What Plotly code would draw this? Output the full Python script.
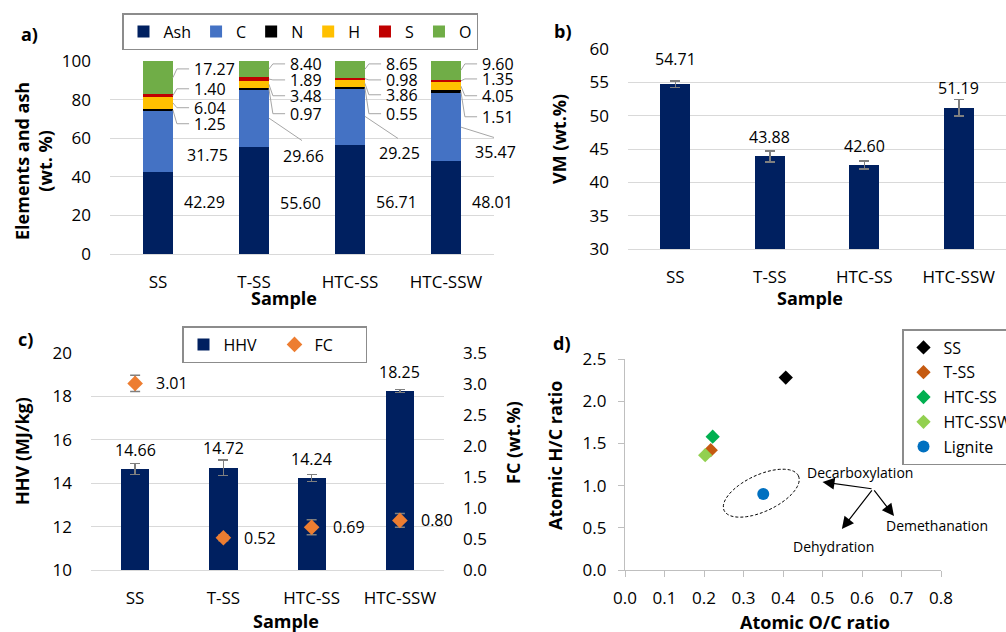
import numpy as np
import plotly.graph_objects as go

# ---------------- data ----------------
samples = ["SS", "T-SS", "HTC-SS", "HTC-SSW"]
components = ["Ash", "C", "N", "H", "S", "O"]
ash = [42.29, 55.60, 56.71, 48.01]
carbon = [31.75, 29.66, 29.25, 35.47]
nitrogen = [1.25, 0.97, 0.55, 1.51]
hydrogen = [6.04, 3.48, 3.86, 4.05]
sulfur = [1.40, 1.89, 0.98, 1.35]
oxygen = [17.27, 8.40, 8.65, 9.60]

vm = [54.71, 43.88, 42.60, 51.19]
vm_err = [0.5, 0.8, 0.6, 1.25]

hhv = [14.66, 14.72, 14.24, 18.25]
hhv_err = [0.25, 0.36, 0.17, 0.07]
fc = [3.01, 0.52, 0.69, 0.80]
fc_err = [0.13, 0.05, 0.12, 0.11]

vk_names = ["SS", "T-SS", "HTC-SS", "HTC-SSW", "Lignite"]
oc_ratio = [0.407, 0.217, 0.222, 0.203, 0.350]
hc_ratio = [2.28, 1.42, 1.58, 1.36, 0.90]

# label placements (panel a, in data units of the y axis)
label_y_a = {
    "Ash": [26.8, 26.3, 26.8, 26.8],
    "C": [51.5, 51.0, 52.1, 52.6],
    "N": [67.5, 72.7, 72.7, 71.1],
    "H": [75.8, 82.0, 82.5, 82.0],
    "S": [85.6, 90.2, 90.2, 90.7],
    "O": [95.9, 98.5, 98.5, 98.5],
}
label_y_b = [58.5, 46.8, 45.45, 54.15]
label_y_c = [15.53, 15.62, 15.12, 19.12]

# ---------------- styling ----------------
W, H = 1006, 632
FONT = "Open Sans"
GRID = "#D9D9D9"
NAVY = "#002060"
colors_a = ["#002060", "#4472C4", "#000000", "#FFC000", "#C00000", "#70AD47"]
vk_colors = ["#000000", "#C55A11", "#00B050", "#92D050", "#0070C0"]
vk_symbols = ["diamond", "diamond", "diamond", "diamond", "circle"]
tick_font = dict(family=FONT, size=17, color="#000000")
val_font = dict(family=FONT, size=16, color="#000000")
title_font = dict(family=FONT, size=18, color="#000000")
CAT_RANGE = [-0.5, len(samples) - 0.5]


def px_x(p):
    return p / W


def px_y(p):
    return 1 - p / H


fig = go.Figure()

# ---- panel a: stacked composition ----
seg_values = [ash, carbon, nitrogen, hydrogen, sulfur, oxygen]
for name, vals, col in zip(components, seg_values, colors_a):
    fig.add_trace(go.Bar(x=samples, y=vals, name=name, width=0.31,
                         marker=dict(color=col, line=dict(width=0)),
                         xaxis="x", yaxis="y", legend="legend"))

# ---- panel b: VM ----
err_style = dict(type="data", color="#7F7F7F", thickness=1.5, width=5, visible=True)
fig.add_trace(go.Bar(x=samples, y=vm, width=0.32, marker=dict(color=NAVY, line=dict(width=0)),
                     error_y=dict(array=vm_err, **err_style),
                     xaxis="x2", yaxis="y2", showlegend=False, name="VM"))

# ---- panel c: HHV & FC ----
fig.add_trace(go.Bar(x=samples, y=hhv, width=0.32, name="HHV",
                     marker=dict(color=NAVY, line=dict(width=0)),
                     error_y=dict(array=hhv_err, **err_style),
                     xaxis="x3", yaxis="y3", legend="legend2"))
fig.add_trace(go.Scatter(x=samples, y=fc, mode="markers", name="FC",
                         marker=dict(symbol="diamond", color="#ED7D31", size=12),
                         error_y=dict(array=fc_err, **err_style),
                         xaxis="x3", yaxis="y4", legend="legend2"))

# ---- panel d: van Krevelen ----
for i, nm in enumerate(vk_names):
    fig.add_trace(go.Scatter(x=[oc_ratio[i]], y=[hc_ratio[i]], mode="markers", name=nm,
                             marker=dict(symbol=vk_symbols[i], color=vk_colors[i],
                                         size=12 if vk_symbols[i] == "circle" else 11),
                             legendgroup=nm, xaxis="x4", yaxis="y5", legend="legend3"))

annotations = []
shapes = []

# panel a labels + leader lines
bar_half = 0.155
upx_x = 1 / 96.0     # category units per pixel
upx_y = 1 / 1.93     # data units per pixel
label_off = {"Ash": 0.25, "C": 0.28}
cum = np.zeros(len(samples))
for name, vals in zip(components, seg_values):
    vals = np.array(vals)
    mids = cum + vals / 2
    for i in range(len(samples)):
        off = label_off.get(name, 0.355)
        ly = label_y_a[name][i]
        annotations.append(dict(x=i + off, y=ly, xref="x", yref="y", text=f"{vals[i]:.2f}",
                                showarrow=False, xanchor="left", yanchor="middle", font=val_font))
        if name in ("N", "H", "S", "O"):
            x0 = i + bar_half
            x1 = x0 + 4 * upx_x
            x2 = i + off - 3 * upx_x
            shapes.append(dict(type="path", xref="x", yref="y",
                               path=f"M {x0},{mids[i]} L {x1},{ly} L {x2},{ly}",
                               line=dict(color="#A6A6A6", width=1)))
        elif name == "C" and (mids[i] - ly) / upx_y > 14:
            shapes.append(dict(type="line", xref="x", yref="y",
                               x0=i + bar_half, y0=mids[i], x1=i + off + 0.22, y1=ly + 15 * upx_y,
                               line=dict(color="#A6A6A6", width=1)))
    cum = cum + vals

# panel b labels
for i in range(len(samples)):
    annotations.append(dict(x=i, y=label_y_b[i], xref="x2", yref="y2", text=f"{vm[i]:.2f}",
                            showarrow=False, font=val_font))
# panel c labels
for i in range(len(samples)):
    annotations.append(dict(x=i, y=label_y_c[i], xref="x3", yref="y3", text=f"{hhv[i]:.2f}",
                            showarrow=False, font=val_font))
    annotations.append(dict(x=i + 0.215, y=fc[i], xref="x3", yref="y4", text=f"{fc[i]:.2f}",
                            showarrow=False, xanchor="left", font=val_font))

# panel d: ellipse around lignite and process arrows
theta = np.deg2rad(25)
a_px, b_px = 41, 18.3
t = np.linspace(0, 2 * np.pi, 73)
ex = a_px * np.cos(t) * np.cos(theta) - b_px * np.sin(t) * np.sin(theta)
ey = a_px * np.cos(t) * np.sin(theta) + b_px * np.sin(t) * np.cos(theta)
xs = oc_ratio[4] - 0.005 + ex / 395.0
ys = hc_ratio[4] + 0.01 + ey / 84.4
path = "M " + " L ".join(f"{x:.4f},{y:.4f}" for x, y in zip(xs, ys)) + " Z"
shapes.append(dict(type="path", xref="x4", yref="y5", path=path,
                   line=dict(color="#000000", width=1, dash="3px,2px")))

origin = (0.628, 0.96)
arrow_heads = [(0.50, 1.043), (0.549, 0.486), (0.681, 0.640)]
for hx, hy in arrow_heads:
    annotations.append(dict(x=hx, y=hy, ax=origin[0], ay=origin[1], xref="x4", yref="y5",
                            axref="x4", ayref="y5", text="", showarrow=True, arrowhead=2,
                            arrowsize=2.0, arrowwidth=1.2, arrowcolor="#000000"))
for txt, tx, ty in [("Decarboxylation", 0.595, 1.16), ("Demethanation", 0.79, 0.533),
                    ("Dehydration", 0.529, 0.284)]:
    annotations.append(dict(x=tx, y=ty, xref="x4", yref="y5", text=txt, showarrow=False,
                            font=dict(family=FONT, size=14, color="#000000")))

# axis titles and panel letters (paper coords)
def paper_text(text, x, y, angle=0, font=title_font):
    annotations.append(dict(x=px_x(x), y=px_y(y), xref="paper", yref="paper", text=text,
                            showarrow=False, textangle=angle, font=font,
                            xanchor="center", yanchor="middle"))

paper_text("<b>Elements and ash<br>(wt. %)</b>", 33, 161, -90)
paper_text("<b>Sample</b>", 284, 298)
paper_text("<b>VM (wt.%)</b>", 559, 139, -90)
paper_text("<b>Sample</b>", 810, 298)
paper_text("<b>HHV (MJ/kg)</b>", 22, 451, -90)
paper_text("<b>FC (wt.%)</b>", 513, 443, -90)
paper_text("<b>Sample</b>", 286, 621)
paper_text("<b>Atomic H/C ratio</b>", 555, 456, -90)
paper_text("<b>Atomic O/C ratio</b>", 815, 622)
paper_text("<b>a)</b>", 29, 34)
paper_text("<b>b)</b>", 563, 31)
paper_text("<b>c)</b>", 25, 339)
paper_text("<b>d)</b>", 562, 343)

common_y = dict(showgrid=True, gridcolor=GRID, gridwidth=1.3, zeroline=False, showline=False,
                tickfont=tick_font, ticks="", ticklabelstandoff=18, fixedrange=True)
common_x = dict(type="category", range=CAT_RANGE, autorange=False, showline=True,
                linecolor=GRID, linewidth=1.3, showgrid=False,
                tickfont=tick_font, ticks="", ticklabelstandoff=12, fixedrange=True)
legend_font = dict(family=FONT, size=16, color="#000000")

fig.update_layout(
    width=W, height=H,
    margin=dict(l=0, r=0, t=0, b=0, autoexpand=False),
    paper_bgcolor="white", plot_bgcolor="white",
    barmode="stack",
    font=dict(family=FONT, color="#000000"),
    xaxis=dict(domain=[px_x(110), px_x(494)], anchor="y", **common_x),
    yaxis=dict(domain=[px_y(254), px_y(61)], anchor="x", range=[0, 100], dtick=20, **common_y),
    xaxis2=dict(domain=[px_x(628), 1.0], anchor="y2", **common_x),
    yaxis2=dict(domain=[px_y(249), px_y(49)], anchor="x2", range=[30, 60], dtick=5, **common_y),
    xaxis3=dict(domain=[px_x(91), px_x(444)], anchor="y3", **common_x),
    yaxis3=dict(domain=[px_y(570), px_y(353)], anchor="x3", range=[10, 20], dtick=2, **common_y),
    yaxis4=dict(overlaying="y3", anchor="x3", side="right", range=[0, 3.5], dtick=0.5,
                tickformat=".1f", showgrid=False, zeroline=False, tickfont=tick_font,
                ticks="", ticklabelstandoff=18, fixedrange=True),
    xaxis4=dict(domain=[px_x(625), px_x(941)], anchor="y5", range=[0, 0.8], dtick=0.1,
                tickformat=".1f", showgrid=False, zeroline=False, showline=True,
                linecolor="#BFBFBF", linewidth=1.3, ticks="outside", ticklen=6,
                tickcolor="#BFBFBF", tickfont=tick_font, ticklabelstandoff=6, fixedrange=True),
    yaxis5=dict(domain=[px_y(570), px_y(359)], anchor="x4", range=[0, 2.5], dtick=0.5,
                tickformat=".1f", showgrid=False, zeroline=False, showline=True,
                linecolor="#BFBFBF", linewidth=1.3, ticks="outside", ticklen=6,
                tickcolor="#BFBFBF", tickfont=tick_font, ticklabelstandoff=8, fixedrange=True),
    legend=dict(orientation="h", x=px_x(300), y=px_y(13), xanchor="center", yanchor="top",
                bordercolor="#8C8C8C", borderwidth=1.5, bgcolor="white", traceorder="normal",
                font=legend_font),
    legend2=dict(orientation="h", x=px_x(182), y=px_y(326), xanchor="left", yanchor="top",
                 bordercolor="#8C8C8C", borderwidth=1.5, bgcolor="white", traceorder="normal",
                 font=legend_font, entrywidth=46),
    legend3=dict(orientation="v", x=px_x(902), y=px_y(329), xanchor="left", yanchor="top",
                 bordercolor="#8C8C8C", borderwidth=1.5, bgcolor="white",
                 traceorder="grouped", tracegroupgap=1, font=legend_font),
    annotations=annotations,
    shapes=shapes,
)

fig.write_html("out.html")
